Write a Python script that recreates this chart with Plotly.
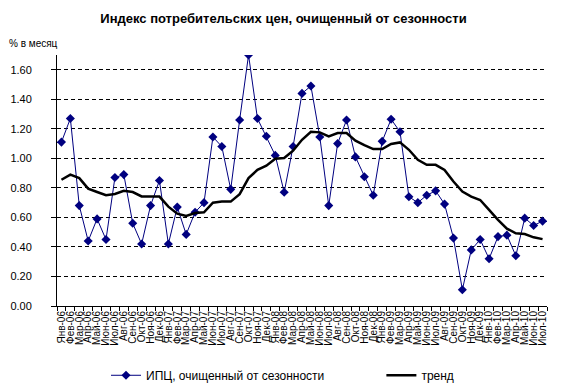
import plotly.graph_objects as go

months = ["Янв", "Фев", "Мар", "Апр", "Май", "Июн", "Июл", "Авг", "Сен", "Окт", "Ноя", "Дек"]
categories = [f"{m}-{y:02d}" for y in range(6, 11) for m in months][:55]

cpi = [1.11, 1.27, 0.68, 0.44, 0.59, 0.45, 0.87, 0.89, 0.56, 0.42, 0.68, 0.85,
       0.42, 0.67, 0.485, 0.635, 0.70, 1.145, 1.08, 0.79, 1.26, 1.70, 1.27, 1.15,
       1.02, 0.77, 1.08, 1.44, 1.49, 1.145, 0.68, 1.10, 1.26, 1.01, 0.875, 0.75,
       1.115, 1.265, 1.18, 0.74, 0.70, 0.75, 0.78, 0.69, 0.46, 0.11, 0.38, 0.45,
       0.32, 0.47, 0.48, 0.34, 0.595, 0.545, 0.575]

trend = [0.855, 0.89, 0.866, 0.795, 0.772, 0.75, 0.759, 0.78, 0.772, 0.742, 0.741, 0.741,
         0.673, 0.625, 0.61, 0.63, 0.635, 0.70, 0.707, 0.707, 0.757, 0.866, 0.922, 0.95,
         0.997, 1.002, 1.052, 1.126, 1.18, 1.176, 1.149, 1.172, 1.172, 1.12, 1.09, 1.063,
         1.063, 1.097, 1.108, 1.058, 0.99, 0.956, 0.956, 0.922, 0.843, 0.775, 0.741, 0.718,
         0.651, 0.583, 0.524, 0.492, 0.487, 0.465, 0.453]

y_ticks = [0, 0.2, 0.4, 0.6, 0.8, 1.0, 1.2, 1.4, 1.6]
y_tick_text = [f"{v:.2f}" for v in y_ticks]

FONT = "Liberation Sans, Arial, sans-serif"

fig = go.Figure()
fig.add_trace(go.Scatter(
    x=categories, y=cpi, name="ИПЦ, очищенный от сезонности",
    mode="lines+markers",
    line=dict(color="#000080", width=1),
    marker=dict(symbol="diamond", size=7, color="#000080"),
    legend="legend",
))
fig.add_trace(go.Scatter(
    x=categories, y=trend, name="тренд",
    mode="lines",
    line=dict(color="black", width=2.5),
    legend="legend2",
))

leg_common = dict(orientation="h", yanchor="middle", y=-0.276, xanchor="left",
                  font=dict(size=12), bgcolor="rgba(0,0,0,0)", itemwidth=30)

fig.update_layout(
    width=567, height=389,
    margin=dict(l=57, r=20, t=55, b=83, autoexpand=False),
    paper_bgcolor="white", plot_bgcolor="white",
    font=dict(family=FONT, color="black", size=11),
    title=dict(text="<b>Индекс потребительских цен, очищенный от сезонности</b>",
               x=0.5, xanchor="center", y=1 - 18 / 389, yanchor="middle",
               font=dict(size=13, family=FONT)),
    showlegend=True,
    legend=dict(x=0.1, **leg_common),
    legend2=dict(x=0.662, **leg_common),
    xaxis=dict(
        type="category", tickmode="array", tickvals=categories, ticktext=categories,
        tickangle=-90, tickfont=dict(size=10), showline=True, linecolor="black",
        linewidth=1, ticks="outside", ticklen=4, tickcolor="black",
        tickson="boundaries", showgrid=False, zeroline=False,
        range=[-0.5, len(categories) - 0.5],
    ),
    yaxis=dict(
        range=[0, 1.7], tickvals=y_ticks, ticktext=y_tick_text,
        tickfont=dict(size=11), showline=True, linecolor="black", linewidth=1,
        ticks="outside", ticklen=5, tickcolor="black",
        showgrid=True, gridcolor="black", gridwidth=1, griddash="4px,3px",
        zeroline=False, ticklabelstandoff=17,
    ),
    annotations=[dict(text="% в месяц", xref="paper", yref="paper",
                      x=-0.102, y=1.044, xanchor="left", yanchor="middle",
                      showarrow=False, font=dict(size=10))],
)

fig.write_html("out.html")
